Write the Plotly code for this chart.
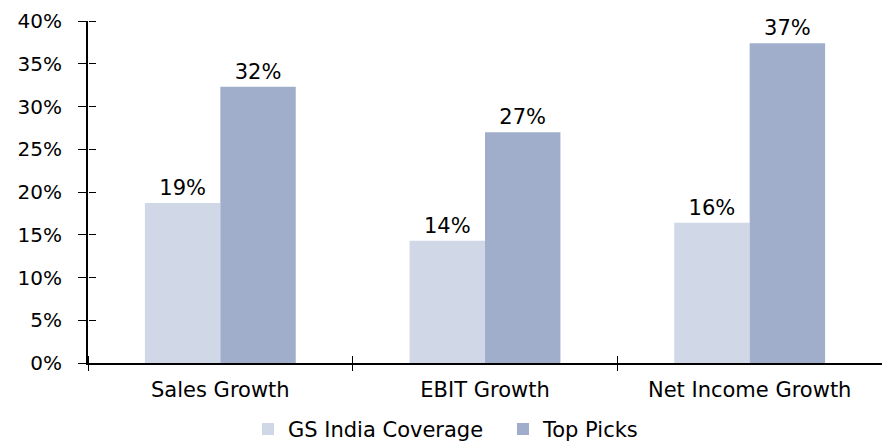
import plotly.graph_objects as go

categories = ["Sales Growth", "EBIT Growth", "Net Income Growth"]
gs_india = [0.187, 0.143, 0.164]
top_picks = [0.323, 0.270, 0.374]
series_names = ["GS India Coverage", "Top Picks"]
y_ticks = [0, 0.05, 0.10, 0.15, 0.20, 0.25, 0.30, 0.35, 0.40]
y_tick_labels = ["0%", "5%", "10%", "15%", "20%", "25%", "30%", "35%", "40%"]

FONT = "DejaVu Sans"
c_gs = "#D0D7E6"
c_tp = "#A0AECB"

fig = go.Figure()
fig.add_trace(go.Bar(
    x=categories, y=gs_india, name=series_names[0], marker_color=c_gs,
    marker_line_width=0, texttemplate="%{y:.0%}", textposition="outside",
    textfont=dict(family=FONT, size=21, color="#000000"), cliponaxis=False))
fig.add_trace(go.Bar(
    x=categories, y=top_picks, name=series_names[1], marker_color=c_tp,
    marker_line_width=0, texttemplate="%{y:.0%}", textposition="outside",
    textfont=dict(family=FONT, size=21, color="#000000"), cliponaxis=False))
# invisible helper trace so the overlay axes (inner halves of the tick marks) are drawn
fig.add_trace(go.Scatter(
    x=list(range(len(categories))), y=gs_india, xaxis="x2", yaxis="y2",
    mode="markers", marker=dict(opacity=0), showlegend=False, hoverinfo="skip"))

fig.update_layout(
    width=882, height=444,
    margin=dict(l=88, r=0, t=21, b=81, autoexpand=False),
    paper_bgcolor="white", plot_bgcolor="white",
    barmode="group", bargap=0.43, bargroupgap=0,
    font=dict(family=FONT, color="#000000"),
    showlegend=True,
    legend=dict(orientation="h", x=0.2015, xanchor="left",
                yref="container", y=0.033, yanchor="middle",
                entrywidth=210, entrywidthmode="pixels",
                font=dict(family=FONT, size=21, color="#000000"),
                itemsizing="constant", traceorder="normal"),
    xaxis=dict(type="category", range=[-0.5, 2.5], showline=True, linecolor="#000000",
               linewidth=2, ticks="outside", tickson="boundaries", ticklen=6,
               tickcolor="#000000", tickwidth=1, showgrid=False, zeroline=False,
               tickfont=dict(family=FONT, size=21, color="#000000"),
               ticklabelstandoff=7),
    yaxis=dict(range=[0, 0.40], tickvals=y_ticks, ticktext=y_tick_labels,
               showline=True, linecolor="#000000", linewidth=2, ticks="outside",
               ticklen=8, tickcolor="#000000", tickwidth=1, showgrid=False,
               zeroline=False, tickfont=dict(family=FONT, size=20, color="#000000"),
               ticklabelstandoff=12),
    xaxis2=dict(overlaying="x", side="top", anchor="free", position=0,
                range=[-0.5, 2.5], tick0=-0.5, dtick=1,
                ticks="outside", ticklen=7, tickcolor="#000000", tickwidth=1,
                showticklabels=False, showgrid=False, zeroline=False, showline=False),
    yaxis2=dict(overlaying="y", side="right", anchor="free", position=0,
                range=[0, 0.40], tickvals=y_ticks,
                ticks="outside", ticklen=7, tickcolor="#000000", tickwidth=1,
                showticklabels=False, showgrid=False, zeroline=False, showline=False),
)

fig.write_html("out.html")
